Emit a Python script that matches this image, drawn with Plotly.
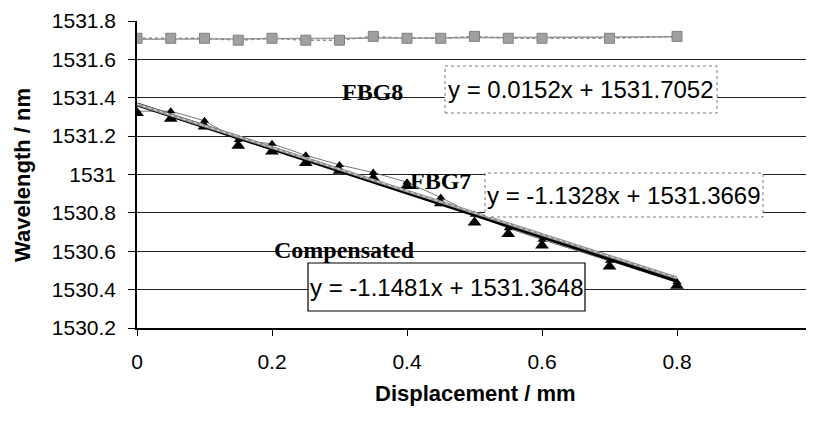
import plotly.graph_objects as go

# ---- data ----
displacement = [0, 0.05, 0.1, 0.15, 0.2, 0.25, 0.3, 0.35, 0.4, 0.45, 0.5, 0.55, 0.6, 0.7, 0.8]
fbg8 = [1531.71, 1531.71, 1531.71, 1531.70, 1531.71, 1531.70, 1531.70, 1531.72,
        1531.71, 1531.71, 1531.72, 1531.71, 1531.71, 1531.71, 1531.72]
fbg7 = [1531.33, 1531.33, 1531.28, 1531.18, 1531.16, 1531.10, 1531.05, 1531.01,
        1530.96, 1530.88, 1530.79, 1530.72, 1530.66, 1530.55, 1530.44]
compensated = [1531.32, 1531.29, 1531.25, 1531.15, 1531.12, 1531.06, 1531.02, 1530.98,
               1530.94, 1530.85, 1530.75, 1530.69, 1530.63, 1530.52, 1530.42]

fit_names = ["FBG8", "FBG7", "Compensated"]
fit_slopes = [0.0152, -1.1328, -1.1481]
fit_intercepts = [1531.7052, 1531.3669, 1531.3648]
fit_labels = ["y = 0.0152x + 1531.7052", "y = -1.1328x + 1531.3669", "y = -1.1481x + 1531.3648"]

x_ticks = [0, 0.2, 0.4, 0.6, 0.8, 1]
x_ticktext = ["0", "0.2", "0.4", "0.6", "0.8", "1"]
y_ticks = [1530.2, 1530.4, 1530.6, 1530.8, 1531.0, 1531.2, 1531.4, 1531.6, 1531.8]
y_ticktext = ["1530.2", "1530.4", "1530.6", "1530.8", "1531", "1531.2", "1531.4", "1531.6", "1531.8"]

# page has an 8px body margin: work in reference pixels, shift by OFF
OFF = 8
W, H = 814 - OFF, 421 - OFF
L, T = 137 - OFF, 21 - OFF
R = W - (812 - OFF)
B = H - (328 - OFF)

fig = go.Figure()

def fit_line(i):
    xs = [displacement[0], displacement[-1]]
    ys = [fit_slopes[i] * x + fit_intercepts[i] for x in xs]
    return xs, ys

# FBG8 trendline (under data line)
xs, ys = fit_line(0)
fig.add_trace(go.Scatter(x=xs, y=ys, mode="lines", line=dict(color="#9a9a9a", width=1.5),
                         showlegend=False, hoverinfo="skip"))
# FBG8 data
fig.add_trace(go.Scatter(x=displacement, y=fbg8, mode="lines+markers",
                         line=dict(color="#8a8a8a", width=1.5, dash="dot"),
                         marker=dict(symbol="square", size=10, color="#a0a0a0",
                                     line=dict(color="#808080", width=1)),
                         showlegend=False))
# FBG7 data (thin line, small triangles)
fig.add_trace(go.Scatter(x=displacement, y=fbg7, mode="lines+markers",
                         line=dict(color="#777777", width=1),
                         marker=dict(symbol="triangle-up", size=8, color="black"),
                         showlegend=False))
# Compensated data (large triangles)
fig.add_trace(go.Scatter(x=displacement, y=compensated, mode="markers",
                         marker=dict(symbol="triangle-up", size=12, color="black"),
                         showlegend=False))
# Compensated trendline (thick black)
xs, ys = fit_line(2)
fig.add_trace(go.Scatter(x=xs, y=ys, mode="lines", line=dict(color="black", width=4),
                         showlegend=False, hoverinfo="skip"))
# FBG7 trendline (grey hatched look)
xs, ys = fit_line(1)
fig.add_trace(go.Scatter(x=xs, y=ys, mode="lines", line=dict(color="#8f8f8f", width=3),
                         showlegend=False, hoverinfo="skip"))
fig.add_trace(go.Scatter(x=xs, y=ys, mode="lines", line=dict(color="#dddddd", width=1, dash="dot"),
                         showlegend=False, hoverinfo="skip"))

# --- reference-pixel helpers for labels ---
pw = W - L - R
ph = H - T - B
def px(xp):
    return (xp - OFF - L) / pw
def py(yp):
    return 1 - (yp - OFF - T) / ph

shapes = []
annotations = []
boxes = [
    (445, 66, 717, 113, dict(color="#777777", width=1, dash="dot")),
    (485, 173, 763, 217, dict(color="#777777", width=1, dash="dot")),
    (308, 263, 585, 311, dict(color="black", width=1.2)),
]
for (x0, y0, x1, y1, ln), lab in zip(boxes, fit_labels):
    shapes.append(dict(type="rect", xref="paper", yref="paper",
                       x0=px(x0), x1=px(x1), y0=py(y1), y1=py(y0),
                       line=ln, fillcolor="white", layer="above"))
    annotations.append(dict(xref="paper", yref="paper", x=px((x0 + x1) / 2), y=py((y0 + y1) / 2),
                            text=lab, showarrow=False, xanchor="center", yanchor="middle",
                            font=dict(family="Liberation Sans, Arial", size=24, color="black")))

name_pos = [(372, 92), (440, 181), (344, 250)]
for (xx, yy), nm in zip(name_pos, fit_names):
    annotations.append(dict(xref="paper", yref="paper", x=px(xx), y=py(yy),
                            text="<b>%s</b>" % nm, showarrow=False,
                            xanchor="center", yanchor="middle",
                            font=dict(family="Liberation Serif, Times New Roman", size=24, color="black")))

annotations.append(dict(xref="paper", yref="paper", x=px(475), y=py(393),
                        text="<b>Displacement / mm</b>", showarrow=False,
                        xanchor="center", yanchor="middle",
                        font=dict(family="Liberation Sans, Arial", size=22, color="black")))
annotations.append(dict(xref="paper", yref="paper", x=px(22), y=py(175),
                        text="<b>Wavelength / nm</b>", showarrow=False, textangle=-90,
                        xanchor="center", yanchor="middle",
                        font=dict(family="Liberation Sans, Arial", size=22, color="black")))

fig.update_layout(
    width=W, height=H,
    margin=dict(l=L, r=R, t=T, b=B),
    paper_bgcolor="white", plot_bgcolor="white",
    shapes=shapes, annotations=annotations,
    showlegend=False,
    font=dict(family="Liberation Sans, Arial", size=21, color="black"),
)
fig.update_xaxes(range=[0, 1], tickvals=x_ticks, ticktext=x_ticktext,
                 showgrid=False, zeroline=False,
                 showline=True, linecolor="black", linewidth=1.5,
                 ticks="outside", ticklen=6, tickcolor="black", tickwidth=1,
                 ticklabelstandoff=8,
                 tickfont=dict(family="Liberation Sans, Arial", size=21, color="black"))
fig.update_yaxes(range=[1530.2, 1531.8], tickvals=y_ticks, ticktext=y_ticktext,
                 showgrid=True, gridcolor="#222222", gridwidth=1.3, zeroline=False,
                 showline=True, linecolor="black", linewidth=1.5,
                 ticks="outside", ticklen=7, tickcolor="black", tickwidth=1,
                 ticklabelstandoff=8,
                 tickfont=dict(family="Liberation Sans, Arial", size=21, color="black"))

fig.write_html("out.html")
